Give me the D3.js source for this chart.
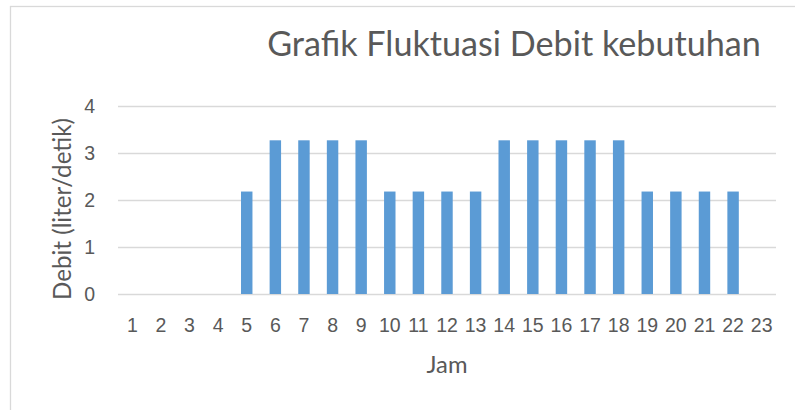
<!DOCTYPE html>
<html>
<head>
<meta charset="utf-8">
<script src="https://cdn.jsdelivr.net/npm/d3@7"></script>
<style>
  html, body { margin: 0; padding: 0; background: #fff; }
  svg { display: block; font-family: Lato, "Open Sans", sans-serif; }
  .tick text { fill: #595959; }
</style>
</head>
<body>
<svg id="chart" width="795" height="410"></svg>
<script>
// Data
const hours = d3.range(1, 24).map(String);
const debit = [0, 0, 0, 0, 2.18, 3.27, 3.27, 3.27, 3.27, 2.18, 2.18, 2.18, 2.18,
               3.27, 3.27, 3.27, 3.27, 3.27, 2.18, 2.18, 2.18, 2.18, 0];
const yTicks = [0, 1, 2, 3, 4];
const title = 'Grafik Fluktuasi Debit kebutuhan';
const xTitle = 'Jam';
const yTitle = 'Debit (liter/detik)';

const W = 795, H = 410;
const plot = { left: 118, right: 776, top: 106, bottom: 294 };
const tickSize = 19.5;
const svg = d3.select('#chart');

// shrink/grow a text so it spans the width seen in the source
function fitWidth(sel, base, target) {
  sel.attr('font-size', base);
  const w = sel.node().getComputedTextLength();
  sel.attr('font-size', base * target / w);
}

// chart border (runs off right/bottom edge like the source)
svg.append('rect')
  .attr('x', 10.5).attr('y', 6.5)
  .attr('width', 820).attr('height', 430)
  .attr('fill', '#fff')
  .attr('stroke', '#d9d9d9').attr('stroke-width', 1.3);

const x = d3.scaleBand()
  .domain(hours)
  .range([plot.left, plot.right])
  .paddingInner(0.6)
  .paddingOuter(0.3);

const y = d3.scaleLinear()
  .domain([0, 4])
  .range([plot.bottom, plot.top]);

// gridlines + y labels
const yAxis = svg.append('g')
  .attr('transform', `translate(${plot.left},0)`)
  .call(d3.axisLeft(y).tickValues(yTicks).tickFormat(d3.format('d'))
    .tickSize(-(plot.right - plot.left)).tickPadding(23));
yAxis.select('.domain').remove();
yAxis.selectAll('.tick line').attr('stroke', '#d9d9d9').attr('stroke-width', 1.3);
yAxis.selectAll('.tick text').attr('font-size', tickSize);

// bars
svg.append('g').selectAll('rect')
  .data(debit)
  .join('rect')
  .attr('x', (d, i) => x(hours[i]))
  .attr('width', x.bandwidth())
  .attr('y', d => y(d))
  .attr('height', d => y(0) - y(d))
  .attr('fill', '#5b9bd5');

// x labels
const xAxis = svg.append('g')
  .attr('transform', `translate(0,${plot.bottom})`)
  .call(d3.axisBottom(x).tickSize(0).tickPadding(24));
xAxis.select('.domain').remove();
xAxis.selectAll('.tick text').attr('font-size', tickSize);

// titles
const t = svg.append('text')
  .attr('x', 514).attr('y', 56)
  .attr('text-anchor', 'middle')
  .attr('fill', '#595959')
  .text(title);
fitWidth(t, 32, 494);

const xt = svg.append('text')
  .attr('x', (plot.left + plot.right) / 2).attr('y', 373)
  .attr('text-anchor', 'middle')
  .attr('fill', '#595959')
  .text(xTitle);
fitWidth(xt, 19, 41);

const yt = svg.append('text')
  .attr('transform', `translate(71,${(118 + 300) / 2}) rotate(-90)`)
  .attr('text-anchor', 'middle')
  .attr('fill', '#595959')
  .text(yTitle);
fitWidth(yt, 19, 182);
</script>
</body>
</html>
